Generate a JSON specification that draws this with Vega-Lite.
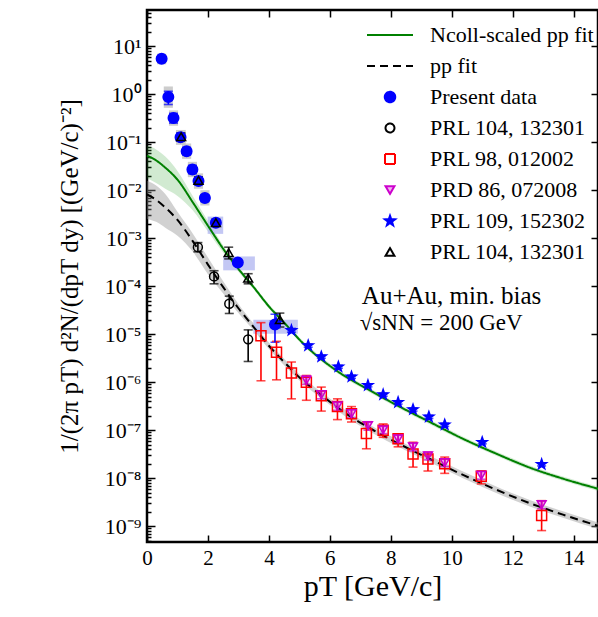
{
  "$schema": "https://vega.github.io/schema/vega-lite/v6.json",
  "width": 451,
  "height": 532,
  "autosize": {"type": "none"},
  "padding": {"left": 147, "top": 10, "right": 0, "bottom": 75},
  "config": {
    "view": {"stroke": "#000000", "strokeWidth": 2.5},
    "font": "Liberation Serif",
    "axis": {"grid": false, "domain": false, "tickColor": "#000000", "tickWidth": 1.5, "labelColor": "#000000", "titleColor": "#000000", "labelFont": "Liberation Serif", "titleFont": "Liberation Serif", "titleFontWeight": "normal", "labelFlush": false, "labelOverlap": false},
    "legend": {"orient": "none", "legendX": 232, "legendY": 14, "labelFont": "Liberation Serif", "labelFontSize": 22, "labelLimit": 300, "symbolStrokeWidth": 2, "symbolSize": 100, "labelOffset": 29, "padding": 0, "rowPadding": 9, "labelColor": "#000000"}
  },
  "datasets": {
    "fits": [
      {"s": "Ncoll-scaled pp fit", "pT": 0, "y": 0.0525, "lo": 0.0178, "hi": 0.0851},
      {"s": "Ncoll-scaled pp fit", "pT": 0.3, "y": 0.0417, "lo": 0.0141, "hi": 0.0708},
      {"s": "Ncoll-scaled pp fit", "pT": 0.6, "y": 0.0295, "lo": 0.0107, "hi": 0.0501},
      {"s": "Ncoll-scaled pp fit", "pT": 1.0, "y": 0.0166, "lo": 0.00759, "hi": 0.0251},
      {"s": "Ncoll-scaled pp fit", "pT": 1.5, "y": 0.00562, "lo": 0.0038, "hi": 0.00759},
      {"s": "Ncoll-scaled pp fit", "pT": 2.0, "y": 0.00182, "lo": 0.00138, "hi": 0.00229},
      {"s": "Ncoll-scaled pp fit", "pT": 2.5, "y": 0.000603, "lo": 0.000501, "hi": 0.000708},
      {"s": "Ncoll-scaled pp fit", "pT": 3.0, "y": 0.000229, "lo": 0.0002, "hi": 0.000257},
      {"s": "Ncoll-scaled pp fit", "pT": 3.5, "y": 9.55e-5, "lo": 8.6e-5, "hi": 1.06e-4},
      {"s": "Ncoll-scaled pp fit", "pT": 4.0, "y": 3.8e-5, "lo": 3.42e-5, "hi": 4.22e-5},
      {"s": "Ncoll-scaled pp fit", "pT": 4.5, "y": 1.74e-5, "lo": 1.57e-5, "hi": 1.93e-5},
      {"s": "Ncoll-scaled pp fit", "pT": 5.12, "y": 6.46e-6, "lo": 5.82e-6, "hi": 7.17e-6},
      {"s": "Ncoll-scaled pp fit", "pT": 6.22, "y": 1.74e-6, "lo": 1.57e-6, "hi": 1.93e-6},
      {"s": "Ncoll-scaled pp fit", "pT": 7.31, "y": 6.76e-7, "lo": 6.09e-7, "hi": 7.5e-7},
      {"s": "Ncoll-scaled pp fit", "pT": 8.41, "y": 2.82e-7, "lo": 2.54e-7, "hi": 3.13e-7},
      {"s": "Ncoll-scaled pp fit", "pT": 9.28, "y": 1.48e-7, "lo": 1.33e-7, "hi": 1.64e-7},
      {"s": "Ncoll-scaled pp fit", "pT": 10.37, "y": 6.61e-8, "lo": 5.95e-8, "hi": 7.34e-8},
      {"s": "Ncoll-scaled pp fit", "pT": 11.46, "y": 3.24e-8, "lo": 2.92e-8, "hi": 3.6e-8},
      {"s": "Ncoll-scaled pp fit", "pT": 12.56, "y": 1.66e-8, "lo": 1.5e-8, "hi": 1.84e-8},
      {"s": "Ncoll-scaled pp fit", "pT": 13.65, "y": 9.77e-9, "lo": 8.8e-9, "hi": 1.08e-8},
      {"s": "Ncoll-scaled pp fit", "pT": 14.8, "y": 6.03e-9, "lo": 5.43e-9, "hi": 6.69e-9},
      {"s": "pp fit", "pT": 0, "y": 0.00813, "lo": 0.00251, "hi": 0.0158},
      {"s": "pp fit", "pT": 0.3, "y": 0.00631, "lo": 0.00219, "hi": 0.0126},
      {"s": "pp fit", "pT": 0.6, "y": 0.00437, "lo": 0.00166, "hi": 0.00832},
      {"s": "pp fit", "pT": 1.0, "y": 0.0024, "lo": 0.00112, "hi": 0.00355},
      {"s": "pp fit", "pT": 1.5, "y": 0.000871, "lo": 0.000525, "hi": 0.00126},
      {"s": "pp fit", "pT": 2.0, "y": 0.000282, "lo": 0.000178, "hi": 0.000398},
      {"s": "pp fit", "pT": 2.5, "y": 9.55e-5, "lo": 7.08e-5, "hi": 1.26e-4},
      {"s": "pp fit", "pT": 3.0, "y": 3.47e-5, "lo": 2.75e-5, "hi": 4.27e-5},
      {"s": "pp fit", "pT": 3.5, "y": 1.41e-5, "lo": 1.2e-5, "hi": 1.66e-5},
      {"s": "pp fit", "pT": 4.0, "y": 5.75e-6, "lo": 4.9e-6, "hi": 6.7e-6},
      {"s": "pp fit", "pT": 4.5, "y": 2.63e-6, "lo": 2.25e-6, "hi": 3.08e-6},
      {"s": "pp fit", "pT": 5.0, "y": 1.26e-6, "lo": 1.08e-6, "hi": 1.47e-6},
      {"s": "pp fit", "pT": 5.78, "y": 5.01e-7, "lo": 4.28e-7, "hi": 5.86e-7},
      {"s": "pp fit", "pT": 6.5, "y": 2.29e-7, "lo": 1.96e-7, "hi": 2.68e-7},
      {"s": "pp fit", "pT": 7.31, "y": 1.1e-7, "lo": 9.4e-8, "hi": 1.29e-7},
      {"s": "pp fit", "pT": 8.41, "y": 4.68e-8, "lo": 4.0e-8, "hi": 5.48e-8},
      {"s": "pp fit", "pT": 9.28, "y": 2.51e-8, "lo": 2.15e-8, "hi": 2.94e-8},
      {"s": "pp fit", "pT": 10.37, "y": 1.17e-8, "lo": 1.0e-8, "hi": 1.37e-8},
      {"s": "pp fit", "pT": 11.46, "y": 5.75e-9, "lo": 4.9e-9, "hi": 6.7e-9},
      {"s": "pp fit", "pT": 12.56, "y": 3.02e-9, "lo": 2.58e-9, "hi": 3.53e-9},
      {"s": "pp fit", "pT": 13.65, "y": 1.74e-9, "lo": 1.49e-9, "hi": 2.04e-9},
      {"s": "pp fit", "pT": 14.8, "y": 1.02e-9, "lo": 8.7e-10, "hi": 1.19e-9}
    ],
    "boxes": [
      {"k": "grey", "x0": 0.33, "x1": 0.63, "y0": 4.2, "y1": 7.0},
      {"k": "grey", "x0": 0.55, "x1": 0.85, "y0": 0.52, "y1": 1.45},
      {"k": "grey", "x0": 0.72, "x1": 1.02, "y0": 0.22, "y1": 0.46},
      {"k": "grey", "x0": 0.95, "x1": 1.27, "y0": 0.088, "y1": 0.18},
      {"k": "grey", "x0": 1.15, "x1": 1.45, "y0": 0.045, "y1": 0.094},
      {"k": "grey", "x0": 1.34, "x1": 1.64, "y0": 0.0187, "y1": 0.039},
      {"k": "grey", "x0": 1.54, "x1": 1.84, "y0": 0.0107, "y1": 0.0224},
      {"k": "grey", "x0": 1.75, "x1": 2.05, "y0": 0.0048, "y1": 0.01},
      {"k": "lav", "x0": 1.99, "x1": 2.5, "y0": 0.00123, "y1": 0.00282},
      {"k": "lav", "x0": 2.5, "x1": 3.54, "y0": 0.000214, "y1": 0.000417},
      {"k": "lav", "x0": 3.49, "x1": 4.95, "y0": 1.02e-5, "y1": 2.0e-5}
    ],
    "pts": [
      {"s": "Present data", "pT": 0.48, "y": 5.5, "lo": 4.9, "hi": 6.2},
      {"s": "Present data", "pT": 0.7, "y": 0.87, "lo": 0.61, "hi": 1.15},
      {"s": "Present data", "pT": 0.87, "y": 0.32, "lo": 0.25, "hi": 0.4},
      {"s": "Present data", "pT": 1.1, "y": 0.127, "lo": 0.105, "hi": 0.155},
      {"s": "Present data", "pT": 1.3, "y": 0.065, "lo": 0.054, "hi": 0.078},
      {"s": "Present data", "pT": 1.49, "y": 0.027, "lo": 0.022, "hi": 0.033},
      {"s": "Present data", "pT": 1.69, "y": 0.0155, "lo": 0.013, "hi": 0.018},
      {"s": "Present data", "pT": 1.9, "y": 0.0069, "lo": 0.0058, "hi": 0.008},
      {"s": "Present data", "pT": 2.26, "y": 0.0021, "lo": 0.0018, "hi": 0.0024},
      {"s": "Present data", "pT": 2.98, "y": 0.00031, "lo": 0.00028, "hi": 0.00034},
      {"s": "Present data", "pT": 4.2, "y": 1.6e-5, "lo": 6.8e-6, "hi": 2.6e-5},
      {"s": "PRL 104, 132301", "pT": 1.67, "y": 0.00065, "lo": 0.00052, "hi": 0.00081},
      {"s": "PRL 104, 132301", "pT": 2.2, "y": 0.00016, "lo": 0.000112, "hi": 0.00021},
      {"s": "PRL 104, 132301", "pT": 2.7, "y": 4.3e-5, "lo": 2.7e-5, "hi": 6.2e-5},
      {"s": "PRL 104, 132301", "pT": 3.32, "y": 7.8e-6, "lo": 2.7e-6, "hi": 1.23e-5},
      {"s": "PRL 98, 012002", "pT": 3.74, "y": 9.3e-6, "lo": 1.07e-6, "hi": 1.74e-5},
      {"s": "PRL 98, 012002", "pT": 4.25, "y": 4.2e-6, "lo": 1.12e-6, "hi": 7.1e-6},
      {"s": "PRL 98, 012002", "pT": 4.74, "y": 1.55e-6, "lo": 4.5e-7, "hi": 2.63e-6},
      {"s": "PRL 98, 012002", "pT": 5.23, "y": 1.0e-6, "lo": 4.2e-7, "hi": 1.38e-6},
      {"s": "PRL 98, 012002", "pT": 5.72, "y": 5.2e-7, "lo": 2.5e-7, "hi": 7.9e-7},
      {"s": "PRL 98, 012002", "pT": 6.25, "y": 3.1e-7, "lo": 1.66e-7, "hi": 4.5e-7},
      {"s": "PRL 98, 012002", "pT": 6.71, "y": 2.2e-7, "lo": 1.48e-7, "hi": 3.1e-7},
      {"s": "PRL 98, 012002", "pT": 7.2, "y": 8.5e-8, "lo": 4.1e-8, "hi": 1.48e-7},
      {"s": "PRL 98, 012002", "pT": 7.75, "y": 1.0e-7, "lo": 7.1e-8, "hi": 1.35e-7},
      {"s": "PRL 98, 012002", "pT": 8.24, "y": 6.6e-8, "lo": 4.5e-8, "hi": 8.3e-8},
      {"s": "PRL 98, 012002", "pT": 8.73, "y": 3.2e-8, "lo": 1.7e-8, "hi": 5.6e-8},
      {"s": "PRL 98, 012002", "pT": 9.22, "y": 2.5e-8, "lo": 1.41e-8, "hi": 2.95e-8},
      {"s": "PRL 98, 012002", "pT": 9.77, "y": 2.0e-8, "lo": 1.26e-8, "hi": 2.75e-8},
      {"s": "PRL 98, 012002", "pT": 10.97, "y": 1.1e-8, "lo": 7.6e-9, "hi": 1.41e-8},
      {"s": "PRL 98, 012002", "pT": 12.95, "y": 1.66e-9, "lo": 8.1e-10, "hi": 3.4e-9},
      {"s": "PRD 86, 072008", "pT": 5.23, "y": 1.1e-6, "lo": 9.0e-7, "hi": 1.35e-6},
      {"s": "PRD 86, 072008", "pT": 5.72, "y": 5.5e-7, "lo": 4.5e-7, "hi": 6.6e-7},
      {"s": "PRD 86, 072008", "pT": 6.25, "y": 3.2e-7, "lo": 2.6e-7, "hi": 3.9e-7},
      {"s": "PRD 86, 072008", "pT": 6.71, "y": 2.2e-7, "lo": 1.8e-7, "hi": 2.7e-7},
      {"s": "PRD 86, 072008", "pT": 7.25, "y": 1.25e-7, "lo": 1.0e-7, "hi": 1.5e-7},
      {"s": "PRD 86, 072008", "pT": 7.75, "y": 1.02e-7, "lo": 8.5e-8, "hi": 1.2e-7},
      {"s": "PRD 86, 072008", "pT": 8.24, "y": 6.6e-8, "lo": 5.5e-8, "hi": 7.9e-8},
      {"s": "PRD 86, 072008", "pT": 8.73, "y": 4.5e-8, "lo": 3.7e-8, "hi": 5.4e-8},
      {"s": "PRD 86, 072008", "pT": 9.22, "y": 2.9e-8, "lo": 2.4e-8, "hi": 3.5e-8},
      {"s": "PRD 86, 072008", "pT": 9.77, "y": 2.1e-8, "lo": 1.75e-8, "hi": 2.5e-8},
      {"s": "PRD 86, 072008", "pT": 10.97, "y": 1.15e-8, "lo": 9.5e-9, "hi": 1.4e-8},
      {"s": "PRD 86, 072008", "pT": 12.95, "y": 2.8e-9, "lo": 2.3e-9, "hi": 3.3e-9},
      {"s": "PRL 109, 152302", "pT": 4.24, "y": 1.7e-5, "lo": 1.5e-5, "hi": 1.9e-5},
      {"s": "PRL 109, 152302", "pT": 4.74, "y": 1.2e-5, "lo": 1.1e-5, "hi": 1.32e-5},
      {"s": "PRL 109, 152302", "pT": 5.29, "y": 5.8e-6, "lo": 5.35e-6, "hi": 6.25e-6},
      {"s": "PRL 109, 152302", "pT": 5.72, "y": 3.4e-6, "lo": 3.15e-6, "hi": 3.65e-6},
      {"s": "PRL 109, 152302", "pT": 6.28, "y": 2.1e-6, "lo": 1.95e-6, "hi": 2.25e-6},
      {"s": "PRL 109, 152302", "pT": 6.71, "y": 1.3e-6, "lo": 1.2e-6, "hi": 1.4e-6},
      {"s": "PRL 109, 152302", "pT": 7.25, "y": 8.6e-7, "lo": 8.0e-7, "hi": 9.2e-7},
      {"s": "PRL 109, 152302", "pT": 7.75, "y": 5.5e-7, "lo": 5.1e-7, "hi": 5.9e-7},
      {"s": "PRL 109, 152302", "pT": 8.24, "y": 3.8e-7, "lo": 3.5e-7, "hi": 4.1e-7},
      {"s": "PRL 109, 152302", "pT": 8.73, "y": 2.7e-7, "lo": 2.5e-7, "hi": 2.9e-7},
      {"s": "PRL 109, 152302", "pT": 9.25, "y": 1.9e-7, "lo": 1.76e-7, "hi": 2.04e-7},
      {"s": "PRL 109, 152302", "pT": 9.77, "y": 1.3e-7, "lo": 1.2e-7, "hi": 1.4e-7},
      {"s": "PRL 109, 152302", "pT": 11.0, "y": 5.6e-8, "lo": 5.2e-8, "hi": 6.0e-8},
      {"s": "PRL 109, 152302", "pT": 12.95, "y": 1.94e-8, "lo": 1.8e-8, "hi": 2.08e-8},
      {"s": "PRL 104, 132301 ", "pT": 1.12, "y": 0.13, "lo": 0.11, "hi": 0.155},
      {"s": "PRL 104, 132301 ", "pT": 1.69, "y": 0.016, "lo": 0.0135, "hi": 0.019},
      {"s": "PRL 104, 132301 ", "pT": 2.26, "y": 0.0021, "lo": 0.0018, "hi": 0.0025},
      {"s": "PRL 104, 132301 ", "pT": 2.68, "y": 0.0005, "lo": 0.00037, "hi": 0.00065},
      {"s": "PRL 104, 132301 ", "pT": 3.32, "y": 0.000147, "lo": 0.000112, "hi": 0.000182},
      {"s": "PRL 104, 132301 ", "pT": 4.36, "y": 2.0e-5, "lo": 1.41e-5, "hi": 2.75e-5}
    ]
  },
  "resolve": {"axis": {"x": "independent", "y": "independent"}},
  "layer": [
    {
      "data": {"name": "fits"},
      "transform": [{"filter": "datum.s === 'Ncoll-scaled pp fit'"}],
      "mark": {"type": "area", "color": "#2ca02c", "opacity": 0.22, "interpolate": "monotone"},
      "encoding": {
        "x": {"field": "pT", "type": "quantitative", "scale": {"domain": [0, 14.8], "nice": false, "zero": false},
          "axis": {"orient": "bottom", "values": [0, 2, 4, 6, 8, 10, 12, 14], "tickSize": -7, "labelFontSize": 21, "labelPadding": 12, "title": "pT [GeV/c]", "titleFontSize": 30, "titlePadding": 3}},
        "y": {"field": "hi", "type": "quantitative", "scale": {"type": "log", "domain": [4.68e-10, 56.8], "nice": false},
          "axis": {"orient": "left",
            "values": [5e-10, 6e-10, 7e-10, 8e-10, 9e-10, 1e-9, 2e-9, 3e-9, 4e-9, 5e-9, 6e-9, 7e-9, 8e-9, 9e-9, 1e-8, 2e-8, 3e-8, 4e-8, 5e-8, 6e-8, 7e-8, 8e-8, 9e-8, 1e-7, 2e-7, 3e-7, 4e-7, 5e-7, 6e-7, 7e-7, 8e-7, 9e-7, 1e-6, 2e-6, 3e-6, 4e-6, 5e-6, 6e-6, 7e-6, 8e-6, 9e-6, 1e-5, 2e-5, 3e-5, 4e-5, 5e-5, 6e-5, 7e-5, 8e-5, 9e-5, 1e-4, 2e-4, 3e-4, 4e-4, 5e-4, 6e-4, 7e-4, 8e-4, 9e-4, 1e-3, 2e-3, 3e-3, 4e-3, 5e-3, 6e-3, 7e-3, 8e-3, 9e-3, 1e-2, 2e-2, 3e-2, 4e-2, 5e-2, 6e-2, 7e-2, 8e-2, 9e-2, 0.1, 0.2, 0.3, 0.4, 0.5, 0.6, 0.7, 0.8, 0.9, 1, 2, 3, 4, 5, 6, 7, 8, 9, 10, 20, 30, 40, 50],
            "tickSize": {"condition": {"test": "abs(log(datum.value)/LN10 - round(log(datum.value)/LN10)) < 0.01", "value": -8}, "value": -4},
            "labelExpr": "abs(log(datum.value)/LN10 - round(log(datum.value)/LN10)) > 0.01 ? '' : '10' + replace(replace(replace(replace(replace(replace(replace(replace(replace(replace(replace('' + round(log(datum.value)/LN10), '-', '⁻'), '0', '⁰'), '1', '¹'), '2', '²'), '3', '³'), '4', '⁴'), '5', '⁵'), '6', '⁶'), '7', '⁷'), '8', '⁸'), '9', '⁹')",
            "labelFontSize": 22, "labelPadding": 14, "labelBaseline": "middle",
            "title": "1/(2π pT) d²N/(dpT dy) [(GeV/c)⁻²]", "titleFontSize": 25, "titlePadding": 22}},
        "y2": {"field": "lo"}
      }
    },
    {
      "data": {"name": "fits"},
      "transform": [{"filter": "datum.s === 'pp fit'"}],
      "mark": {"type": "area", "color": "#8c8c8c", "opacity": 0.4, "interpolate": "monotone"},
      "encoding": {
        "x": {"field": "pT", "type": "quantitative", "axis": {"orient": "top", "values": [0, 2, 4, 6, 8, 10, 12, 14], "tickSize": -7, "labels": false, "title": null}},
        "y": {"field": "hi", "type": "quantitative", "axis": {"orient": "right", "values": [1e-9, 1e-8, 1e-7, 1e-6, 1e-5, 1e-4, 1e-3, 1e-2, 0.1, 1, 10], "tickSize": -7, "labels": false, "title": null}},
        "y2": {"field": "lo"}
      }
    },
    {
      "data": {"name": "boxes"},
      "transform": [{"filter": "datum.k === 'grey'"}],
      "mark": {"type": "rect", "color": "#c4c4c4", "opacity": 0.85},
      "encoding": {
        "x": {"field": "x0", "type": "quantitative", "axis": null},
        "x2": {"field": "x1"},
        "y": {"field": "y0", "type": "quantitative", "axis": null},
        "y2": {"field": "y1"}
      }
    },
    {
      "data": {"name": "boxes"},
      "transform": [{"filter": "datum.k === 'lav'"}],
      "mark": {"type": "rect", "color": "#b9bdf2", "opacity": 0.85},
      "encoding": {
        "x": {"field": "x0", "type": "quantitative", "axis": null},
        "x2": {"field": "x1"},
        "y": {"field": "y0", "type": "quantitative", "axis": null},
        "y2": {"field": "y1"}
      }
    },
    {
      "data": {"name": "fits"},
      "mark": {"type": "line", "strokeWidth": 2, "interpolate": "monotone"},
      "encoding": {
        "x": {"field": "pT", "type": "quantitative", "axis": null},
        "y": {"field": "y", "type": "quantitative", "axis": null},
        "color": {"field": "s", "type": "nominal", "title": null,
          "legend": {"encode": {"symbols": {"update": {"fillOpacity": {"signal": "datum.value === 'Present data' || datum.value === 'PRL 109, 152302' ? 1 : datum.value === 'PRD 86, 072008' ? 0.3 : 0"}, "opacity": {"value": 1}}}}}},
        "strokeDash": {"field": "s", "type": "nominal", "title": null,
          "legend": {"encode": {"symbols": {"update": {"fillOpacity": {"signal": "datum.value === 'Present data' || datum.value === 'PRL 109, 152302' ? 1 : datum.value === 'PRD 86, 072008' ? 0.3 : 0"}, "opacity": {"value": 1}}}}},
          "scale": {"domain": ["Ncoll-scaled pp fit", "pp fit", "Present data", "PRL 104, 132301", "PRL 98, 012002", "PRD 86, 072008", "PRL 109, 152302", "PRL 104, 132301 "],
            "range": [[1, 0], [8, 5], [1, 0], [1, 0], [1, 0], [1, 0], [1, 0], [1, 0]]}}
      }
    },
    {
      "data": {"name": "pts"},
      "mark": {"type": "errorbar", "ticks": {"size": 9}, "thickness": 1.6},
      "encoding": {
        "x": {"field": "pT", "type": "quantitative", "axis": null},
        "y": {"field": "lo", "type": "quantitative", "axis": null, "title": null},
        "y2": {"field": "hi"},
        "color": {"field": "s", "type": "nominal", "title": null,
          "legend": {"encode": {"symbols": {"update": {"fillOpacity": {"signal": "datum.value === 'Present data' || datum.value === 'PRL 109, 152302' ? 1 : datum.value === 'PRD 86, 072008' ? 0.3 : 0"}, "opacity": {"value": 1}}}}}}
      }
    },
    {
      "data": {"name": "pts"},
      "mark": {"type": "point", "filled": false, "strokeWidth": 1.5, "opacity": 1},
      "encoding": {
        "x": {"field": "pT", "type": "quantitative", "axis": null},
        "y": {"field": "y", "type": "quantitative", "axis": null},
        "color": {"field": "s", "type": "nominal", "title": null,
          "scale": {"domain": ["Ncoll-scaled pp fit", "pp fit", "Present data", "PRL 104, 132301", "PRL 98, 012002", "PRD 86, 072008", "PRL 109, 152302", "PRL 104, 132301 "],
            "range": ["#008000", "#000000", "#0000ff", "#000000", "#ff0000", "#cc00cc", "#0000ff", "#000000"]},
          "legend": {"encode": {"symbols": {"update": {"fillOpacity": {"signal": "datum.value === 'Present data' || datum.value === 'PRL 109, 152302' ? 1 : datum.value === 'PRD 86, 072008' ? 0.3 : 0"}, "opacity": {"value": 1}}}}}},
        "fill": {"field": "s", "type": "nominal", "title": null,
          "scale": {"domain": ["Ncoll-scaled pp fit", "pp fit", "Present data", "PRL 104, 132301", "PRL 98, 012002", "PRD 86, 072008", "PRL 109, 152302", "PRL 104, 132301 "],
            "range": ["transparent", "transparent", "#0000ff", "transparent", "transparent", "rgba(204,0,204,0.3)", "#0000ff", "transparent"]},
          "legend": {"encode": {"symbols": {"update": {"fillOpacity": {"signal": "datum.value === 'Present data' || datum.value === 'PRL 109, 152302' ? 1 : datum.value === 'PRD 86, 072008' ? 0.3 : 0"}, "opacity": {"value": 1}}}}}},
        "shape": {"field": "s", "type": "nominal", "title": null,
          "scale": {"domain": ["Ncoll-scaled pp fit", "pp fit", "Present data", "PRL 104, 132301", "PRL 98, 012002", "PRD 86, 072008", "PRL 109, 152302", "PRL 104, 132301 "],
            "range": ["M-4.6,0H4.6", "M-4.6,0H4.6", "circle", "circle", "square", "triangle-down", "M0,-1L0.235,-0.324L0.951,-0.309L0.38,0.124L0.588,0.809L0,0.4L-0.588,0.809L-0.38,0.124L-0.951,-0.309L-0.235,-0.324Z", "triangle-up"]},
          "legend": {"encode": {"symbols": {"update": {"fillOpacity": {"signal": "datum.value === 'Present data' || datum.value === 'PRL 109, 152302' ? 1 : datum.value === 'PRD 86, 072008' ? 0.3 : 0"}, "opacity": {"value": 1}}}}}},
        "size": {"field": "s", "type": "nominal", "legend": null,
          "scale": {"type": "ordinal", "domain": ["Ncoll-scaled pp fit", "pp fit", "Present data", "PRL 104, 132301", "PRL 98, 012002", "PRD 86, 072008", "PRL 109, 152302", "PRL 104, 132301 "],
            "range": [100, 100, 110, 80, 100, 80, 110, 80]}}
      }
    },
    {
      "data": {"values": [{}]},
      "mark": {"type": "text", "text": "Au+Au, min. bias", "font": "Liberation Serif", "fontSize": 25, "align": "left", "baseline": "alphabetic", "color": "#000000"},
      "encoding": {
        "x": {"datum": 7.05, "type": "quantitative", "axis": null},
        "y": {"datum": 4.2e-5, "type": "quantitative", "axis": null}
      }
    },
    {
      "data": {"values": [{}]},
      "mark": {"type": "text", "text": "√sNN = 200 GeV", "font": "Liberation Serif", "fontSize": 23, "align": "left", "baseline": "alphabetic", "color": "#000000"},
      "encoding": {
        "x": {"datum": 6.98, "type": "quantitative", "axis": null},
        "y": {"datum": 1.2e-5, "type": "quantitative", "axis": null}
      }
    }
  ]
}
